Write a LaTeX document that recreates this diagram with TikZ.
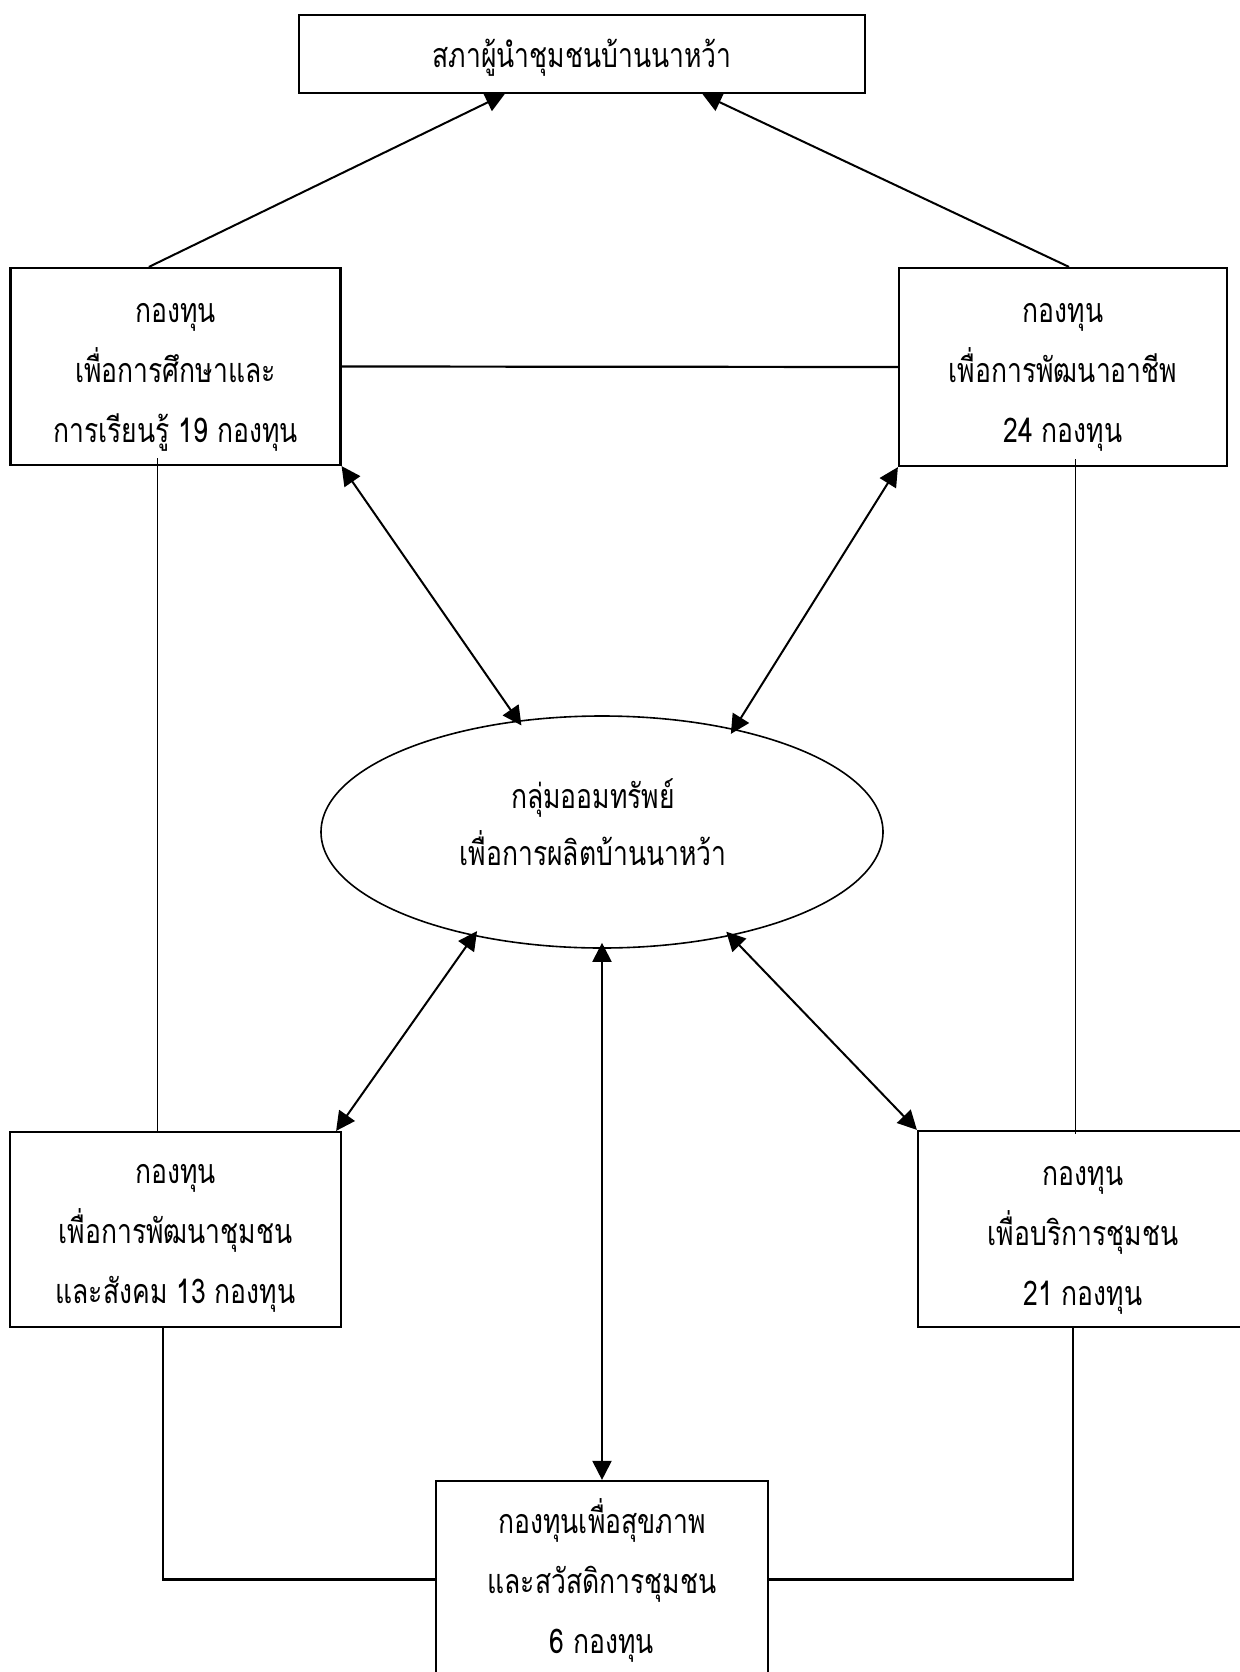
\documentclass[tikz,border=0pt]{standalone}
\usepackage{fontspec}
\newfontfamily\thai[Script=Thai,FakeStretch=0.78]{Loma}
\usetikzlibrary{arrows.meta,shapes.geometric,calc}
\tikzset{
  box/.style={draw=black,line width=2.2pt,rectangle,inner sep=0pt},
  txt/.style={inner sep=0pt,align=center,font=\thai\fontsize{34}{60}\selectfont},
  otxt/.style={inner sep=0pt,align=center,font=\thai\fontsize{34}{57}\selectfont},
  oval/.style={draw=black,line width=1.6pt,ellipse,inner sep=0pt},
  arr/.style={line width=2pt,-{Triangle[length=19pt,width=19pt]}},
  darr/.style={line width=2pt,{Triangle[length=19pt,width=19pt]}-{Triangle[length=19pt,width=19pt]}},
  thin/.style={line width=1.2pt},
  link/.style={line width=2.2pt}
}
\begin{document}
\begin{tikzpicture}[x=1pt,y=-1pt]
\useasboundingbox (0,0) rectangle (1239,1672);
\fill[white] (0,0) rectangle (1239,1672);

% boxes and ellipse
\node[box,minimum width=566pt,minimum height=78pt] (top) at (582,54) {};
\node[box,minimum width=330pt,minimum height=197pt] (lu) at (175.5,366.5) {};
\node[box,minimum width=328pt,minimum height=198pt] (ru) at (1063,367) {};
\node[oval,minimum width=562pt,minimum height=232pt] (ell) at (602,832) {};
\node[box,minimum width=331pt,minimum height=195pt] (ll) at (175.5,1229.5) {};
\node[box,minimum width=330pt,minimum height=196pt] (rl) at (1083,1229) {};
\node[box,minimum width=332pt,minimum height=197pt] (bot) at (602,1579.5) {};

% texts
\node[txt] (topt) at ($(top.center)+(0,4)$) {สภาผู้นำชุมชนบ้านนาหว้า};
\node[txt] (lut) at ($(lu.center)+(0,11)$) {กองทุน\\เพื่อการศึกษาและ\\การเรียนรู้ 19 กองทุน};
\node[txt] (rut) at ($(ru.center)+(0,10)$) {กองทุน\\เพื่อการพัฒนาอาชีพ\\24 กองทุน};
\node[otxt] (ellt) at ($(ell.center)+(-9,-10)$) {กลุ่มออมทรัพย์\\เพื่อการผลิตบ้านนาหว้า};
\node[txt] (llt) at ($(ll.center)+(0,9)$) {กองทุน\\เพื่อการพัฒนาชุมชน\\และสังคม 13 กองทุน};
\node[txt] (rlt) at ($(rl.center)+(0,11)$) {กองทุน\\เพื่อบริการชุมชน\\21 กองทุน};
\node[txt] (bott) at ($(bot.center)+(0,1)$) {กองทุนเพื่อสุขภาพ\\และสวัสดิการชุมชน\\6 กองทุน};

% arrows to the top box
\draw[arr] ($(lu.north west)!0.42!(lu.north east)$) -- ($(top.south west)!0.364!(top.south east)$);
\draw[arr] ($(ru.north west)!0.518!(ru.north east)$) -- ($(top.south west)!0.712!(top.south east)$);

% horizontal link between upper boxes
\draw[link] (lu.east) -- (ru.west);

% vertical thin links
\coordinate (vl) at ($(lu.south west)!0.447!(lu.south east)+(0,-8)$);
\draw[thin] (vl) -- (vl |- ll.north);
\coordinate (vr) at ($(ru.south west)!0.539!(ru.south east)+(0,-8)$);
\draw[thin] (vr) -- ($(vr |- rl.north)+(0,4)$);

% lower L-shaped links to bottom box
\coordinate (bl) at ($(ll.south west)!0.462!(ll.south east)$);
\draw[link] (bl) |- (bot.west);
\coordinate (br) at ($(rl.south west)!0.470!(rl.south east)$);
\draw[link] (br) |- (bot.east);

% double arrows with the ellipse
\draw[darr,shorten >=-6pt] (lu.south east) -- (ell.127.6);
\draw[darr,shorten >=-6pt] (ru.south west) -- (ell.38);
\draw[darr,shorten <=-6pt] (ell.219.6) -- ($(ll.north east)+(-6,0)$);
\draw[darr,shorten <=-6pt] (ell.321.6) -- (rl.north west);
\draw[darr,shorten <=-6pt] (ell.south) -- (bot.north);
\end{tikzpicture}
\end{document}
